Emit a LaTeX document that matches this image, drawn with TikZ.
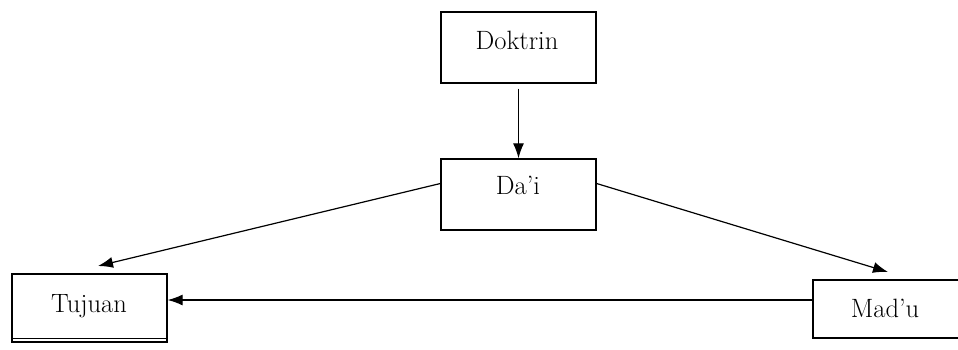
\documentclass[tikz,border=0pt]{standalone}
\usepackage{fontspec}
\usetikzlibrary{arrows.meta}
\begin{document}
\begin{tikzpicture}[x=1pt,y=-1pt,
  box/.style={draw,line width=1.3pt,rectangle,minimum width=155pt,inner sep=0pt},
  lbl/.style={anchor=base,inner sep=0pt,font=\fontsize{26.5}{30}\selectfont},
  arr/.style={line width=1.2pt,-{Latex[length=15pt,width=11pt]}}]
\useasboundingbox (0,0) rectangle (958,349);
\clip (0,0) rectangle (958,349);
\node[box,minimum height=71pt] (doktrin) at (518.5,47.5) {};
\node[box,minimum height=71pt] (dai) at (518.5,194.5) {};
\node[box,minimum height=68pt] (tujuan) at (89.5,308) {};
\node[box,minimum height=58pt] (madu) at (890.5,309) {};
\node[lbl] (tdok) at (517,49) {Doktrin};
\node[lbl] (tdai) at (518,194) {Da'i};
\node[lbl] (ttuj) at (89,312) {Tujuan};
\node[lbl] (tmad) at (885,317) {Mad'u};
\draw[line width=0.9pt] ([yshift=4pt]tujuan.south west) -- ([yshift=4pt]tujuan.south east);
\coordinate (tujtip) at (98,266);
\coordinate (madtip) at (888,272);
\draw[arr] ([yshift=-5pt]doktrin.south) -- (dai.north);
\draw[arr] ([yshift=11pt]dai.west) -- (tujtip);
\draw[arr] ([yshift=11pt]dai.east) -- (madtip);
\draw[arr] ([yshift=9pt]madu.west) -- ([yshift=8pt]tujuan.east);
\end{tikzpicture}
\end{document}
